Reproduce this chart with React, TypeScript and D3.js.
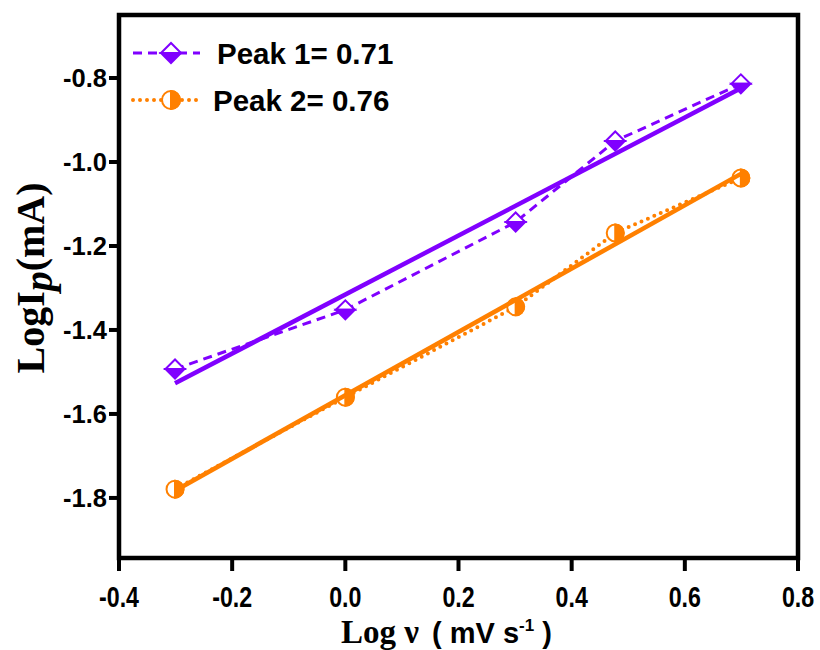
import React from "react";
import * as d3 from "d3";

const logScanRate = [-0.301, 0, 0.301, 0.477, 0.699];
const peak1 = [-1.493, -1.352, -1.143, -0.95, -0.814];
const peak2 = [-1.779, -1.56, -1.345, -1.169, -1.038];
const xTicks = [-0.4, -0.2, 0.0, 0.2, 0.4, 0.6, 0.8];
const yTicks = [-1.8, -1.6, -1.4, -1.2, -1.0, -0.8];
const legendLabels = ["Peak 1= 0.71", "Peak 2= 0.76"];

const PURPLE = "#8000FF";
const ORANGE = "#FF8000";

function fit(xs: number[], ys: number[]) {
  const mx = d3.mean(xs)!;
  const my = d3.mean(ys)!;
  let sxy = 0, sxx = 0;
  xs.forEach((x, i) => { sxy += (x - mx) * (ys[i] - my); sxx += (x - mx) ** 2; });
  const b = sxy / sxx;
  const a = my - b * mx;
  return (x: number) => a + b * x;
}

const Diamond = ({ cx, cy, r }: { cx: number; cy: number; r: number }) => (
  <g>
    <path d={`M${cx - r},${cy} L${cx},${cy - r} L${cx + r},${cy} Z`} fill="white" stroke={PURPLE} strokeWidth={2} />
    <path d={`M${cx - r},${cy} L${cx},${cy + r} L${cx + r},${cy} Z`} fill={PURPLE} stroke={PURPLE} strokeWidth={2} />
  </g>
);

const HalfCircle = ({ cx, cy, r }: { cx: number; cy: number; r: number }) => (
  <g>
    <circle cx={cx} cy={cy} r={r} fill="white" stroke={ORANGE} strokeWidth={2} />
    <path d={`M${cx},${cy - r} A${r},${r} 0 0 1 ${cx},${cy + r} Z`} fill={ORANGE} stroke={ORANGE} strokeWidth={2} />
  </g>
);

export default function App() {
  const W = 820, H = 650;
  const x = d3.scaleLinear().domain([-0.4, 0.8]).range([119, 798]);
  const y = d3.scaleLinear().domain([-1.943, -0.65]).range([558, 15]);
  const line = d3.line<[number, number]>().x(d => x(d[0])).y(d => y(d[1]));
  const pts1 = logScanRate.map((v, i) => [v, peak1[i]] as [number, number]);
  const pts2 = logScanRate.map((v, i) => [v, peak2[i]] as [number, number]);
  const f1 = fit(logScanRate, peak1);
  const f2 = fit(logScanRate, peak2);
  const x0 = logScanRate[0], x1 = logScanRate[logScanRate.length - 1];
  const fit1: [number, number][] = [[x0, f1(x0)], [x1, f1(x1)]];
  const fit2: [number, number][] = [[x0, f2(x0)], [x1, f2(x1)]];
  const [xl, xr] = x.range();
  const [yb, yt] = y.range();
  const sansB = "'Liberation Sans', Arial, sans-serif";
  const serif = "'Liberation Serif', 'Times New Roman', serif";

  return (
    <svg width={W} height={H} style={{ position: "absolute", left: 0, top: 0, background: "white" }}>
      {/* data lines */}
      <path d={line(pts1)!} fill="none" stroke={PURPLE} strokeWidth={3} strokeDasharray="9 6" />
      <path d={line(pts2)!} fill="none" stroke={ORANGE} strokeWidth={4} strokeDasharray="0 7" strokeLinecap="round" />
      {pts1.map((p, i) => <Diamond key={"d" + i} cx={x(p[0])} cy={y(p[1])} r={9.5} />)}
      {pts2.map((p, i) => <HalfCircle key={"c" + i} cx={x(p[0])} cy={y(p[1])} r={8.5} />)}
      {/* fit lines */}
      <path d={line(fit1)!} fill="none" stroke={PURPLE} strokeWidth={4.5} />
      <path d={line(fit2)!} fill="none" stroke={ORANGE} strokeWidth={4.5} />

      {/* frame */}
      <rect x={xl} y={yt} width={xr - xl} height={yb - yt} fill="none" stroke="black" strokeWidth={4.5} />
      {/* x ticks */}
      {xTicks.map(t => (
        <g key={"xt" + t}>
          <line x1={x(t)} x2={x(t)} y1={yb} y2={yb + 13} stroke="black" strokeWidth={4} />
          <text transform={`translate(${x(t)},607) scale(0.8,1)`} textAnchor="middle" fontFamily={sansB} fontWeight="bold" fontSize={29}>{t.toFixed(1)}</text>
        </g>
      ))}
      {/* y ticks */}
      {yTicks.map(t => (
        <g key={"yt" + t}>
          <line x1={xl - 10} x2={xl} y1={y(t)} y2={y(t)} stroke="black" strokeWidth={4} />
          <text x={107} y={y(t)} dy="0.36em" textAnchor="end" fontFamily={sansB} fontWeight="bold" fontSize={25.5}>{t.toFixed(1)}</text>
        </g>
      ))}

      {/* axis titles */}
      <text y={643} fontWeight="bold" fontSize={33}>
        <tspan x={341} fontFamily={serif}>Log ν</tspan>
        <tspan x={432} fontFamily={sansB} fontSize={29}>( mV s</tspan>
        <tspan fontFamily={sansB} fontSize={17} dy={-12}>-1</tspan>
        <tspan fontFamily={sansB} fontSize={29} dy={12}> )</tspan>
      </text>
      <text transform={`translate(44,278) rotate(-90)`} textAnchor="middle" fontFamily={serif} fontWeight="bold" fontSize={40}>
        <tspan>LogI</tspan>
        <tspan fontStyle="italic" dy={8}>p</tspan>
        <tspan dy={-8}>(mA)</tspan>
      </text>

      {/* legend */}
      <line x1={133} x2={200} y1={53} y2={53} stroke={PURPLE} strokeWidth={3} strokeDasharray="9 6" />
      <Diamond cx={171} cy={53} r={10} />
      <text x={217} y={53} dy="0.36em" fontFamily={sansB} fontWeight="bold" fontSize={29.5}>{legendLabels[0]}</text>
      <line x1={133} x2={200} y1={100} y2={100} stroke={ORANGE} strokeWidth={4} strokeDasharray="0 7" strokeLinecap="round" />
      <HalfCircle cx={171} cy={100} r={9} />
      <text x={213} y={100} dy="0.36em" fontFamily={sansB} fontWeight="bold" fontSize={29.5}>{legendLabels[1]}</text>
    </svg>
  );
}
